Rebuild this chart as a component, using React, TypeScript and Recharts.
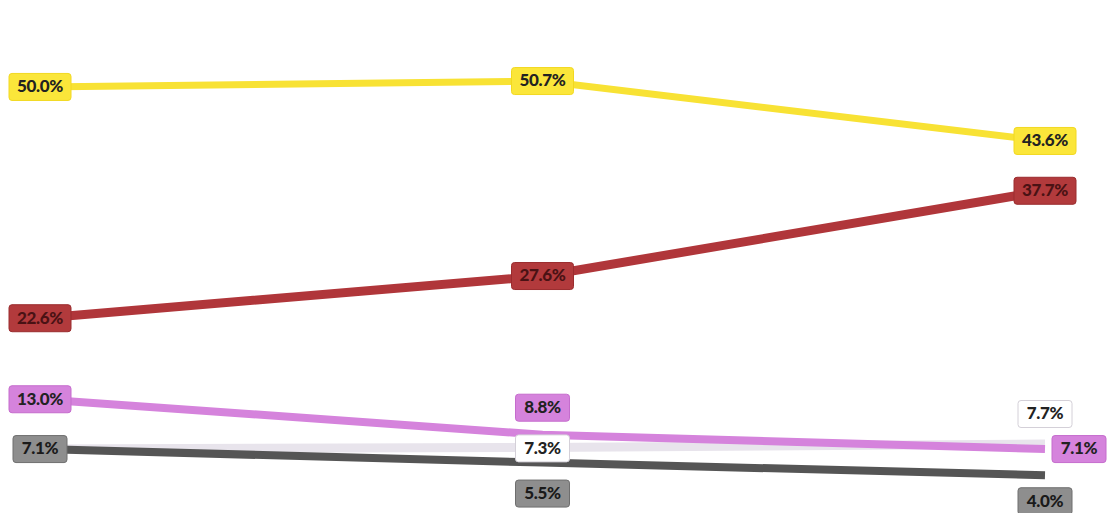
import { LineChart, Line, XAxis, YAxis } from 'recharts'

const periods = ['P1', 'P2', 'P3']
const yellowValues = [50.0, 50.7, 43.6]
const redValues = [22.6, 27.6, 37.7]
const violetValues = [13.0, 8.8, 7.1]
const lightValues = [7.1, 7.3, 7.7]
const greyValues = [7.1, 5.5, 4.0]

const data = periods.map((p, i) => ({
  period: p,
  yellow: yellowValues[i],
  red: redValues[i],
  violet: violetValues[i],
  light: lightValues[i],
  grey: greyValues[i],
}))

interface LabelStyle {
  fill: string
  stroke: string
  text: string
  // per point offsets of the label box, null hides it
  offsets: Array<[number, number] | null>
}

function makeLabel(style: LabelStyle) {
  return (props: any) => {
    const { x, y, value, index } = props
    const off = style.offsets[index]
    if (off == null || x == null || y == null) return null
    const txt = `${Number(value).toFixed(1)}%`
    const w = txt.length > 4 ? 62 : 54
    const h = 27
    const cx = x + off[0]
    const cy = y + off[1]
    return (
      <g key={`lbl-${index}`}>
        <rect
          x={cx - w / 2}
          y={cy - h / 2}
          width={w}
          height={h}
          rx={3}
          fill={style.fill}
          stroke={style.stroke}
          strokeWidth={1}
        />
        <text
          x={cx}
          y={cy + 1}
          textAnchor="middle"
          dominantBaseline="middle"
          fontFamily="Lato, 'Open Sans', sans-serif"
          fontWeight={900}
          fontSize={17}
          letterSpacing={-0.3}
          fill={style.text}
        >
          {txt}
        </text>
      </g>
    )
  }
}

const yellowLabel = makeLabel({ fill: '#fbe63a', stroke: '#f2d820', text: '#222', offsets: [[0, 0], [0, 0], [0, 0]] })
const redLabel = makeLabel({ fill: '#b23a3c', stroke: '#9a2c2e', text: '#4a1214', offsets: [[0, 0], [0, 0], [0, 0]] })
const violetLabel = makeLabel({ fill: '#d583dc', stroke: '#c56ccd', text: '#222', offsets: [[0, 0], [0, -27], [34, 0]] })
const lightLabel = makeLabel({ fill: '#ffffff', stroke: '#d4d0d8', text: '#222', offsets: [null, [0, 1], [0, -30]] })
const greyLabel = makeLabel({ fill: '#8e8e8e', stroke: '#6e6e6e', text: '#1a1a1a', offsets: [[0, 0], [0, 31], [0, 26]] })

export default function App() {
  return (
    <div style={{ position: 'absolute', left: 0, top: 0, width: 1107, height: 513, background: '#fff' }}>
      <LineChart width={1107} height={513} data={data} margin={{ top: 0, right: 0, bottom: 4, left: 0 }}>
        <XAxis dataKey="period" hide padding={{ left: 40, right: 62 }} />
        <YAxis hide domain={[0, 60.3]} />
        <Line dataKey="yellow" stroke="#f8e234" strokeWidth={7} dot={false} isAnimationActive={false} label={yellowLabel} />
        <Line dataKey="red" stroke="#b0363a" strokeWidth={9} dot={false} isAnimationActive={false} label={redLabel} />
        <Line dataKey="light" stroke="#e8e4ec" strokeWidth={9} dot={false} isAnimationActive={false} label={lightLabel} />
        <Line dataKey="grey" stroke="#555555" strokeWidth={8} dot={false} isAnimationActive={false} label={greyLabel} />
        <Line dataKey="violet" stroke="#d583dc" strokeWidth={8} dot={false} isAnimationActive={false} label={violetLabel} />
      </LineChart>
    </div>
  )
}
